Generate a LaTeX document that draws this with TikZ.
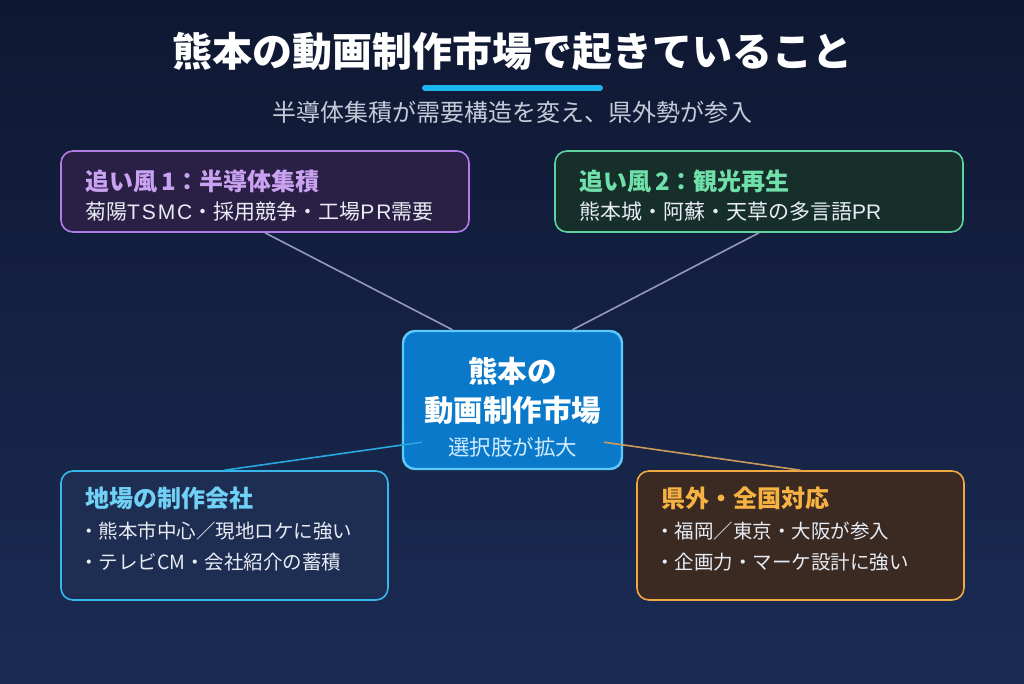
\documentclass[tikz,border=0pt]{standalone}
\usepackage{fontspec}
\setmainfont{Noto Sans CJK JP}
\newfontfamily\latw{Liberation Sans}
\newfontfamily\latwide[LetterSpace=9]{Liberation Sans}
\usetikzlibrary{calc}
\definecolor{bgtop}{HTML}{0F1832}
\definecolor{bgbot}{HTML}{1B2B54}
\definecolor{accent}{HTML}{1AB6F0}
\definecolor{subgray}{HTML}{C3CAD8}
\definecolor{pfill}{HTML}{2A1F44}
\definecolor{pline}{HTML}{B07EE6}
\definecolor{ptext}{HTML}{C9A2F2}
\definecolor{gfill}{HTML}{172F2A}
\definecolor{gline}{HTML}{5ED3A0}
\definecolor{gtext}{HTML}{70E0AA}
\definecolor{cfill}{HTML}{0A79C9}
\definecolor{cline}{HTML}{5CCBF8}
\definecolor{csub}{HTML}{D2ECFF}
\definecolor{bfill}{HTML}{1E2D52}
\definecolor{bline}{HTML}{36B8EC}
\definecolor{btext}{HTML}{70D0F5}
\definecolor{ofill}{HTML}{3A2A22}
\definecolor{oline}{HTML}{F0A840}
\definecolor{otext}{HTML}{F6B242}
\definecolor{bodytext}{HTML}{E8ECF4}
\definecolor{linkgray}{HTML}{9498C2}
\definecolor{linkcyan}{HTML}{27A8E0}
\definecolor{linkorange}{HTML}{CC9A58}
\tikzset{
  panel/.style={rounded corners=12pt, line width=1.6pt},
  link/.style={line width=1.6pt},
  boxtitle/.style={anchor=base west, inner sep=0pt, font=\fontsize{24}{28}\selectfont\bfseries},
  boxline/.style={anchor=base west, inner sep=0pt, text=bodytext, font=\fontsize{19.5}{23}\selectfont},
  wideline/.style={anchor=base west, inner sep=0pt, text=bodytext, font=\fontsize{21}{25}\selectfont},
}
\begin{document}
\begin{tikzpicture}[x=1pt,y=-1pt]
\useasboundingbox (0,0) rectangle (1024,683);
\shade[top color=bgtop, bottom color=bgbot] (0,0) rectangle (1024,683);

% title
\node[anchor=base, inner sep=0pt, text=white, font=\fontsize{40}{46}\selectfont\bfseries] (title) at (512,66) {熊本の動画制作市場で起きていること};
\draw[accent, line width=6pt, line cap=round] (425,88) -- (600,88);
\node[anchor=base, inner sep=0pt, text=subgray, font=\fontsize{24}{28}\selectfont] (sub) at (512,121) {半導体集積が需要構造を変え、県外勢が参入};

% panels
\node[panel, draw=pline, fill=pfill, minimum width=408, minimum height=81] (b1) at (265,191.5) {};
\node[panel, draw=gline, fill=gfill, minimum width=408, minimum height=81] (b2) at (759,191.5) {};
\node[panel, draw=bline, fill=bfill, minimum width=327, minimum height=129] (b3) at (224.5,535.5) {};
\node[panel, draw=oline, fill=ofill, minimum width=327, minimum height=129] (b4) at (800.5,535.5) {};
\node[panel, draw=cline, fill=cfill, line width=2.4pt, minimum width=219, minimum height=138] (c) at (512.5,400) {};

% connectors
\draw[link, linkgray] (b1.south) -- ($(c.north)+(-60,0)$);
\draw[link, linkgray] (b2.south) -- ($(c.north)+(60,0)$);
\draw[link, linkcyan] (b3.north) -- ($(c.south west)+(20,-28)$);
\draw[link, linkorange] (b4.north) -- ($(c.south east)+(-19,-28)$);

% panel 1
\node[boxtitle, text=ptext] (t1) at (85,190) {追い風\,1：半導体集積};
\node[wideline] (l1) at (85,219.5) {菊陽{\latwide TSMC}・採用競争・工場{\latwide PR}需要};
% panel 2
\node[boxtitle, text=gtext] (t2) at (579,190) {追い風\,2：観光再生};
\node[wideline] (l2) at (579,219.5) {熊本城・阿蘇・天草の多言語{\latw PR}};
% panel 3
\node[boxtitle, text=btext] (t3) at (85,507) {地場の制作会社};
\node[boxline] (l3a) at (79,538.5) {・熊本市中心／現地ロケに強い};
\node[boxline] (l3b) at (79,569.5) {・テレビCM・会社紹介の蓄積};
% panel 4
\node[boxtitle, text=otext] (t4) at (661,507) {県外・全国対応};
\node[boxline] (l4a) at (655,538.5) {・福岡／東京・大阪が参入};
\node[boxline] (l4b) at (655,569.5) {・企画力・マーケ設計に強い};
% center
\node[anchor=base, inner sep=0pt, text=white, font=\fontsize{29.5}{34}\selectfont\bfseries] (c1) at (512.5,382) {熊本の};
\node[anchor=base, inner sep=0pt, text=white, font=\fontsize{29.5}{34}\selectfont\bfseries] (c2) at (512.5,421) {動画制作市場};
\node[anchor=base, inner sep=0pt, text=csub, font=\fontsize{21.5}{25}\selectfont] (c3) at (512.5,455) {選択肢が拡大};
\end{tikzpicture}
\end{document}
